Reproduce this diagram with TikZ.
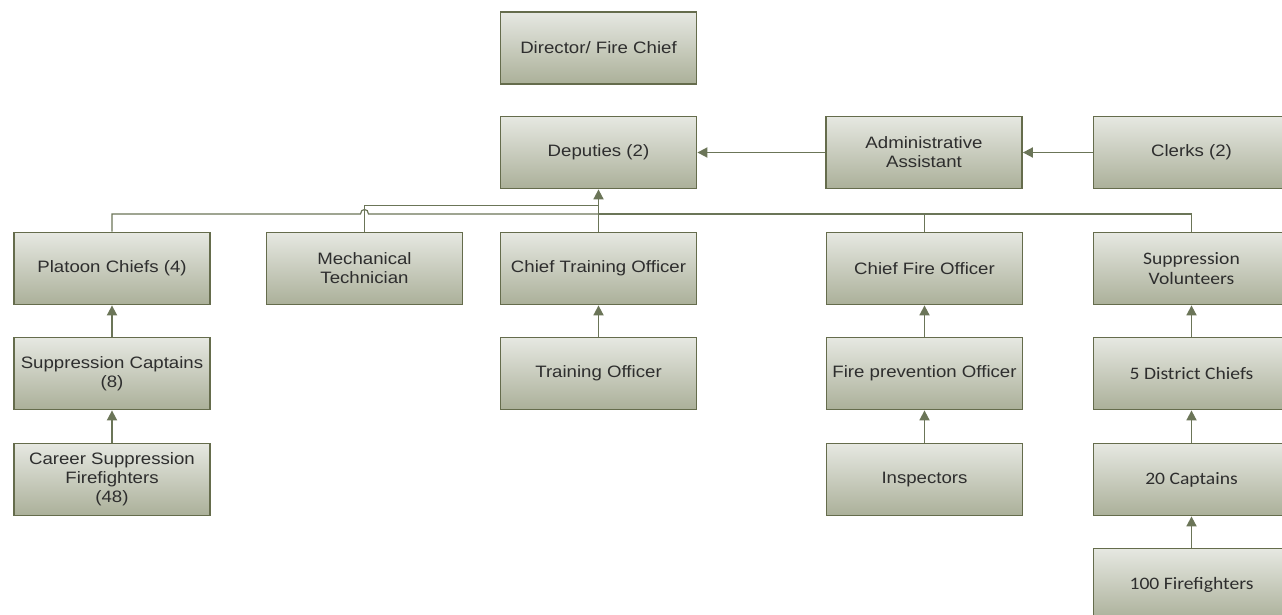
\documentclass[tikz,border=0pt]{standalone}
\usepackage{fontspec}
\setmainfont[FakeStretch=1.13]{Liberation Sans}
\newfontfamily\calib[FakeStretch=1.12]{Carlito}
\usetikzlibrary{arrows.meta,calc}
\definecolor{boxline}{HTML}{656C4C}
\definecolor{boxtop}{HTML}{E6E8E2}
\definecolor{boxbot}{HTML}{ABB099}
\definecolor{conn}{HTML}{6B7558}
\definecolor{txt}{HTML}{2E2E2E}
\begin{document}
\begin{tikzpicture}[x=1pt,y=-1pt,
 box/.style={draw=boxline,line width=1.8pt,top color=boxtop,bottom color=boxbot,minimum width=196pt,minimum height=72pt,inner sep=0pt,align=center,font=\fontsize{16.5}{19}\selectfont,text=txt},
 cbox/.style={box,font=\calib\fontsize{17.5}{20}\selectfont},
 arr/.style={draw=conn,line width=1.8pt,-{Triangle[width=10pt,length=10pt]}},
 bus/.style={draw=conn,line width=1.2pt}]
\useasboundingbox (0,0) rectangle (1282,615);

\node[box] (dir) at (598.5,48) {Director/ Fire Chief};
\node[box] (dep) at (598.5,152.5) {Deputies (2)};
\node[box] (adm) at (924,152.5) {Administrative\\Assistant};
\node[box] (clk) at (1191.5,152.5) {Clerks (2)};

\node[box] (pc) at (112,268.5) {Platoon Chiefs (4)};
\node[box] (mt) at (364.5,268.5) {Mechanical\\Technician};
\node[box] (cto) at (598.5,268.5) {Chief Training Officer};
\node[box] (cfo) at (924.5,268.5) {Chief Fire Officer};
\node[cbox] (sv) at (1191.5,268.5) {Suppression\\Volunteers};

\node[box] (sc) at (112,373.5) {Suppression Captains\\(8)};
\node[box] (to) at (598.5,373.5) {Training Officer};
\node[box] (fpo) at (924.5,373.5) {Fire prevention Officer};
\node[cbox] (dc) at (1191.5,373.5) {5 District Chiefs};

\node[box] (csf) at (112,479.5) {Career Suppression\\Firefighters\\(48)};
\node[box] (ins) at (924.5,479.5) {Inspectors};
\node[cbox] (c20) at (1191.5,479.5) {20 Captains};

\node[cbox] (ff) at (1191.5,584.5) {100 Firefighters};

\coordinate (busy) at (0,214);
\coordinate (hopy) at (0,205.5);

\draw[arr] (adm.west) -- (dep.east);
\draw[arr] (clk.west) -- (adm.east);

\draw[bus] (pc.north) -- (pc.north |- busy) -- ($(mt.north |- busy)+(-4,0)$) .. controls +(0,-6) and +(0,-6) .. ($(mt.north |- busy)+(4,0)$) -- (cto.north |- busy);
\draw[bus] (mt.north) -- (mt.north |- hopy) -- (cto.north |- hopy);
\draw[bus] (cfo.north) -- (cfo.north |- busy) -- (cto.north |- busy);
\draw[bus] (sv.north) -- (sv.north |- busy) -- (cfo.north |- busy);
\draw[arr] (cto.north) -- (dep.south);

\draw[arr] (sc.north) -- (pc.south);
\draw[arr] (csf.north) -- (sc.south);
\draw[arr] (to.north) -- (cto.south);
\draw[arr] (fpo.north) -- (cfo.south);
\draw[arr] (ins.north) -- (fpo.south);
\draw[arr] (dc.north) -- (sv.south);
\draw[arr] (c20.north) -- (dc.south);
\draw[arr] (ff.north) -- (c20.south);
\end{tikzpicture}
\end{document}
